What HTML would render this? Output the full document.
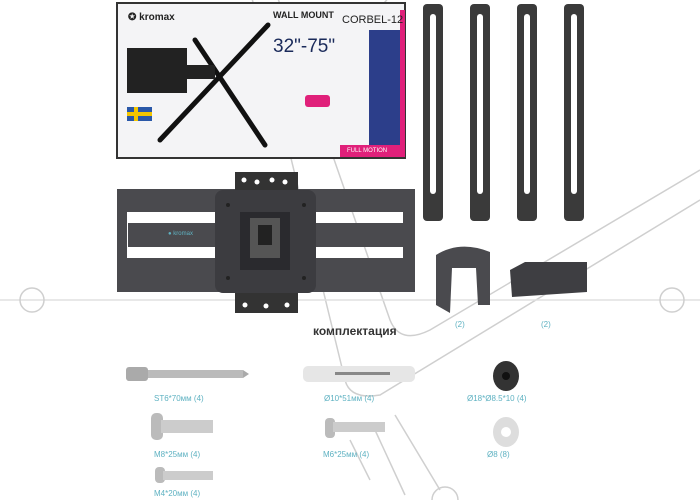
<!DOCTYPE html>
<html><head><meta charset="utf-8"><style>
body{margin:0;width:700px;height:500px;background:#fff;overflow:hidden;position:relative;font-family:"Liberation Sans","Noto Sans CJK SC",sans-serif}
.l{position:absolute;font-size:8px;color:#5fb2c2;white-space:nowrap}
</style></head><body>
<svg width="700" height="500" style="position:absolute;left:0;top:0">
<g stroke="#cfcfcf" stroke-width="1.5" fill="none">
<path d="M250 -10 L345 380 Q350 400 380 395 L700 200"/>
<path d="M275 -10 L390 320 Q400 345 430 330 L700 170"/>
<path d="M395 -10 L320 80"/>
<path d="M0 300 L700 300" stroke="#e0e0e0"/>
<path d="M350 440 L370 480"/><path d="M375 430 L405 495"/><path d="M395 415 L440 490"/>
</g>
<circle cx="445" cy="500" r="13" stroke="#cfcfcf" stroke-width="1.5" fill="none"/>
<circle cx="672" cy="300" r="12" stroke="#cfcfcf" stroke-width="1.5" fill="none"/>
<circle cx="32" cy="300" r="12" stroke="#cfcfcf" stroke-width="1.5" fill="none"/>
<!-- box -->
<rect x="117" y="3" width="288" height="155" fill="#f4f4f6" stroke="#333" stroke-width="2"/>
<rect x="400" y="10" width="5" height="147" fill="#e0207a"/>
<rect x="369" y="30" width="31" height="115" fill="#2c3e8a"/>
<rect x="340" y="145" width="65" height="12" fill="#e0207a"/>
<text x="347" y="152" font-size="6" fill="#fff" font-family="Liberation Sans">FULL MOTION</text>
<g stroke="#111" stroke-width="5" stroke-linecap="round"><path d="M195 40 L265 145"/><path d="M268 25 L160 140"/></g>
<rect x="127" y="48" width="60" height="45" fill="#222"/>
<rect x="175" y="65" width="40" height="14" fill="#222"/>
<rect x="127" y="107" width="25" height="14" fill="#2a58a8"/><rect x="134" y="107" width="4" height="14" fill="#f2c500"/><rect x="127" y="112" width="25" height="4" fill="#f2c500"/>
<rect x="305" y="95" width="25" height="12" fill="#e0207a" rx="3"/>
<!-- strips -->
<g fill="#3a3a3a">
<rect x="423" y="4" width="20" height="217" rx="4"/><rect x="470" y="4" width="20" height="217" rx="4"/>
<rect x="517" y="4" width="20" height="217" rx="4"/><rect x="564" y="4" width="20" height="217" rx="4"/>
</g>
<g fill="#fff"><rect x="430" y="14" width="6" height="180" rx="3"/><rect x="477" y="14" width="6" height="180" rx="3"/><rect x="524" y="14" width="6" height="180" rx="3"/><rect x="571" y="14" width="6" height="180" rx="3"/></g>
<!-- mount arms: three bars -->
<rect x="117" y="189" width="298" height="23" fill="#4a4a4e" rx="2"/>
<rect x="128" y="223" width="285" height="24" fill="#4a4a4e"/>
<rect x="117" y="258" width="298" height="34" fill="#4a4a4e" rx="2"/>
<rect x="117" y="189" width="10" height="103" fill="#4a4a4e"/>
<rect x="403" y="189" width="12" height="103" fill="#4a4a4e"/>
<!-- brackets -->
<rect x="235" y="172" width="63" height="20" fill="#333"/>
<rect x="235" y="290" width="63" height="23" fill="#333"/>
<g fill="#fff"><circle cx="244" cy="180" r="2.5"/><circle cx="257" cy="182" r="2.5"/><circle cx="272" cy="180" r="2.5"/><circle cx="285" cy="182" r="2.5"/>
<circle cx="245" cy="305" r="2.5"/><circle cx="266" cy="306" r="2.5"/><circle cx="287" cy="305" r="2.5"/></g>
<rect x="215" y="190" width="101" height="103" fill="#3c3c40" rx="8"/>
<rect x="240" y="212" width="50" height="58" fill="#2a2a2e"/>
<rect x="250" y="218" width="30" height="40" fill="#555"/>
<rect x="258" y="225" width="14" height="20" fill="#222"/>
<g fill="#222"><circle cx="228" cy="205" r="2"/><circle cx="304" cy="205" r="2"/><circle cx="228" cy="278" r="2"/><circle cx="304" cy="278" r="2"/></g>
<!-- clips -->
<path d="M436 255 Q460 240 490 252 L490 305 L478 305 L476 268 L452 268 L450 313 L436 305 Z" fill="#4a4a4e"/>
<path d="M510 270 L525 262 L587 262 L587 292 L512 297 Z" fill="#3e3e42"/>
<!-- hardware -->
<rect x="126" y="367" width="22" height="14" fill="#aaa" rx="3"/><rect x="148" y="370" width="95" height="8" fill="#bbb"/>
<path d="M243 370 L249 374 L243 378Z" fill="#aaa"/>
<rect x="303" y="366" width="112" height="16" fill="#e6e6e6" rx="5"/><rect x="335" y="372" width="55" height="3" fill="#888"/>
<ellipse cx="506" cy="376" rx="13" ry="15" fill="#333"/><circle cx="506" cy="376" r="4" fill="#111"/>
<rect x="151" y="413" width="12" height="27" fill="#bbb" rx="5"/><rect x="161" y="420" width="52" height="13" fill="#ccc"/>
<rect x="325" y="418" width="10" height="20" fill="#bbb" rx="4"/><rect x="333" y="422" width="52" height="10" fill="#ccc"/>
<ellipse cx="506" cy="432" rx="13" ry="15" fill="#ddd"/><circle cx="506" cy="432" r="5" fill="#fff"/>
<rect x="155" y="467" width="10" height="16" fill="#bbb" rx="4"/><rect x="163" y="471" width="50" height="9" fill="#ccc"/>
</svg>
<div style="position:absolute;left:128px;top:12px;font-size:10px;font-weight:bold;color:#222">✪ kromax</div>
<div style="position:absolute;left:273px;top:10px;font-size:9px;color:#222;font-weight:bold">WALL MOUNT</div>
<div style="position:absolute;left:342px;top:14px;font-size:11px;color:#222">CORBEL-12</div>
<div style="position:absolute;left:273px;top:36px;font-size:19px;color:#1a2a5a">32"-75"</div>
<div style="position:absolute;left:168px;top:231px;font-size:6px;color:#5fb2c2">● kromax</div>
<div style="position:absolute;left:313px;top:324px;font-size:12px;font-weight:bold;color:#333">комплектация</div>
<div class="l" style="left:455px;top:320px">(2)</div>
<div class="l" style="left:541px;top:320px">(2)</div>
<div class="l" style="left:154px;top:394px">ST6*70мм (4)</div>
<div class="l" style="left:324px;top:394px">Ø10*51мм (4)</div>
<div class="l" style="left:467px;top:394px">Ø18*Ø8.5*10 (4)</div>
<div class="l" style="left:154px;top:450px">M8*25мм (4)</div>
<div class="l" style="left:323px;top:450px">M6*25мм (4)</div>
<div class="l" style="left:487px;top:450px">Ø8 (8)</div>
<div class="l" style="left:154px;top:489px">M4*20мм (4)</div>
</body></html>
